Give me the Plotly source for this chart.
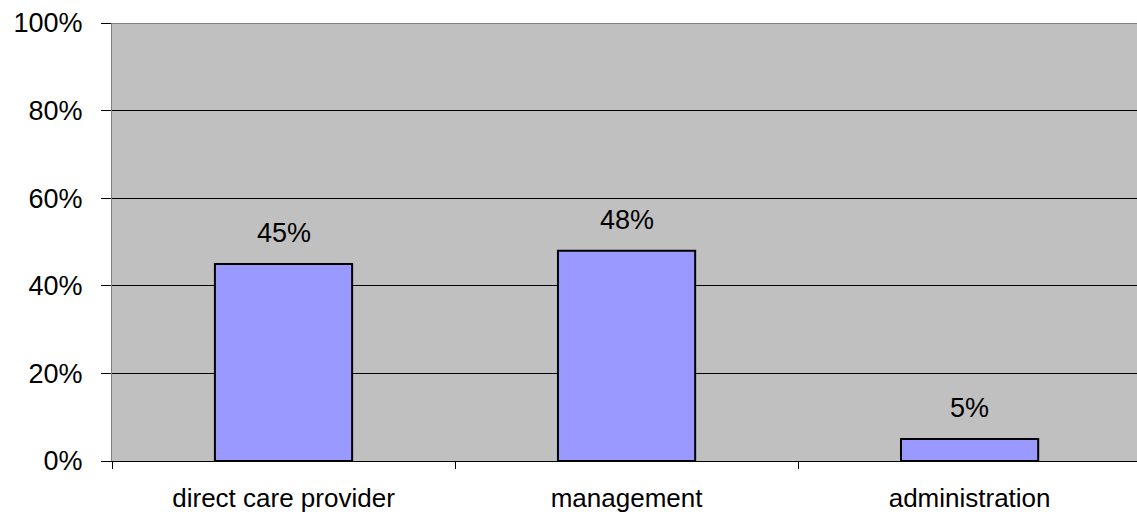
import plotly.graph_objects as go

categories = ["direct care provider", "management", "administration"]
shares = [0.45, 0.48, 0.05]
y_ticks = [0, 0.2, 0.4, 0.6, 0.8, 1.0]
y_tick_labels = ["0%", "20%", "40%", "60%", "80%", "100%"]

FONT = "Liberation Sans, Arial, sans-serif"

fig = go.Figure()
fig.add_trace(go.Bar(
    x=categories,
    y=shares,
    marker=dict(color="#9999FF", line=dict(color="#000000", width=2)),
    width=0.4,
    hoverinfo="skip",
))

# value labels above each bar
for cat, val in zip(categories, shares):
    fig.add_annotation(
        x=cat, y=val, text=f"{round(val * 100)}%",
        showarrow=False, yanchor="bottom", yshift=14,
        font=dict(family=FONT, size=27, color="#000000"),
    )

fig.update_layout(
    width=1137, height=518,
    margin=dict(l=112, r=0, t=23, b=57),
    paper_bgcolor="#FFFFFF",
    plot_bgcolor="#C0C0C0",
    showlegend=False,
    font=dict(family=FONT, size=26, color="#000000"),
)
fig.update_xaxes(
    type="category",
    range=[-0.5, 2.488],
    tickson="boundaries",
    ticks="outside", ticklen=7, tickcolor="#000000", tickwidth=1,
    showline=True, linecolor="#000000", linewidth=1,
    showgrid=False,
    tickfont=dict(family=FONT, size=26, color="#000000"),
    ticklabelstandoff=14,
)
fig.update_yaxes(
    range=[0, 1],
    tickvals=y_ticks, ticktext=y_tick_labels,
    ticks="outside", ticklen=10, tickcolor="#000000", tickwidth=1,
    showline=True, linecolor="#808080", linewidth=1,
    showgrid=True, gridcolor="#000000", gridwidth=1,
    zeroline=False,
    tickfont=dict(family=FONT, size=27, color="#000000"),
    ticklabelstandoff=13,
)
# top border of the plotting area
fig.add_shape(type="line", xref="paper", yref="y", x0=0, x1=1, y0=1, y1=1,
              line=dict(color="#808080", width=2))

fig.write_html("out.html")
